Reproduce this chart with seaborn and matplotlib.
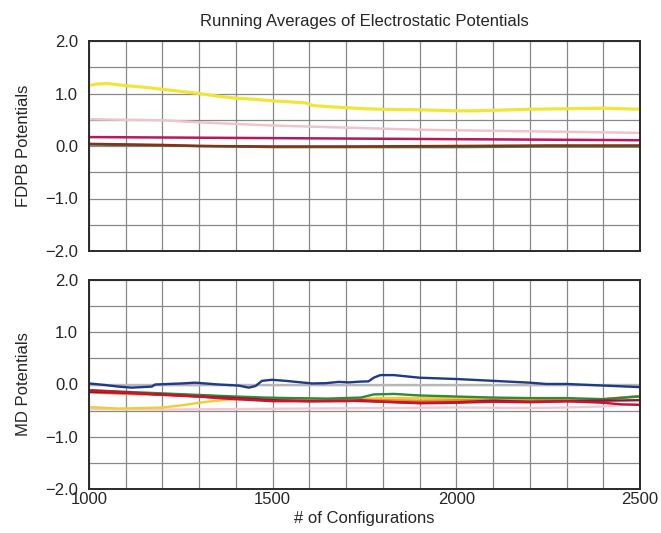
import numpy as np
import pandas as pd
import matplotlib
matplotlib.use("Agg")
import matplotlib.pyplot as plt
from matplotlib.ticker import MultipleLocator, FixedLocator, FuncFormatter
import seaborn as sns

# ---- data (running averages) ----
# FDPB panel
fdpb_yellow_x = [1000, 1020, 1050, 1100, 1150, 1200, 1250, 1300, 1350, 1400, 1450, 1500,
                 1550, 1590, 1610, 1650, 1700, 1750, 1800, 1900, 2000, 2050, 2100, 2200,
                 2300, 2400, 2500]
fdpb_yellow_y = [1.15, 1.18, 1.19, 1.15, 1.12, 1.08, 1.04, 1.00, 0.95, 0.91, 0.89, 0.86,
                 0.84, 0.82, 0.77, 0.75, 0.73, 0.71, 0.70, 0.69, 0.67, 0.67, 0.68, 0.70,
                 0.71, 0.72, 0.70]
fdpb_pink_x = [1000, 1100, 1200, 1300, 1400, 1500, 1600, 1700, 1800, 1900, 2000, 2100,
               2200, 2300, 2400, 2500]
fdpb_pink_y = [0.51, 0.50, 0.49, 0.45, 0.42, 0.39, 0.37, 0.35, 0.33, 0.31, 0.30, 0.29,
               0.28, 0.27, 0.26, 0.25]
fdpb_magenta_x = [1000, 1250, 1500, 1750, 2000, 2250, 2500]
fdpb_magenta_y = [0.17, 0.16, 0.15, 0.14, 0.13, 0.12, 0.11]
fdpb_brown_x = [1000, 1200, 1300, 1500, 1700, 2000, 2250, 2500]
fdpb_brown_y = [0.04, 0.02, 0.00, -0.01, -0.01, 0.00, 0.01, 0.01]
fdpb_green_x = [1000, 1200, 1500, 1800, 2000, 2250, 2500]
fdpb_green_y = [0.03, 0.01, -0.02, -0.02, -0.02, -0.01, -0.01]

# MD panel
md_grey_x = [1000, 1500, 2000, 2500]
md_grey_y = [0.0, 0.0, 0.0, 0.0]
md_pink_x = [1000, 1200, 1400, 1600, 1800, 2000, 2200, 2300, 2400, 2450, 2500]
md_pink_y = [-0.47, -0.48, -0.47, -0.46, -0.45, -0.44, -0.45, -0.44, -0.42, -0.39, -0.37]
md_yellow_x = [1000, 1050, 1080, 1150, 1200, 1250, 1280, 1320, 1380, 1450, 1500, 1550,
               1650, 1750, 1800, 1900, 2000, 2100, 2200, 2300, 2400, 2500]
md_yellow_y = [-0.43, -0.45, -0.46, -0.45, -0.44, -0.40, -0.37, -0.33, -0.29, -0.28,
               -0.26, -0.27, -0.28, -0.27, -0.26, -0.26, -0.26, -0.27, -0.29, -0.30,
               -0.29, -0.22]
md_orange_x = [1000, 1100, 1200, 1300, 1400, 1500, 1600, 1700, 1800, 1900, 2000, 2100,
               2200, 2300, 2400, 2500]
md_orange_y = [-0.15, -0.18, -0.20, -0.23, -0.27, -0.29, -0.30, -0.29, -0.30, -0.31,
               -0.30, -0.30, -0.31, -0.29, -0.28, -0.22]
md_green_x = [1000, 1100, 1200, 1300, 1400, 1480, 1550, 1650, 1740, 1775, 1830, 1900,
              2000, 2100, 2200, 2300, 2400, 2500]
md_green_y = [-0.11, -0.14, -0.17, -0.20, -0.23, -0.25, -0.26, -0.27, -0.25, -0.19,
              -0.18, -0.21, -0.23, -0.25, -0.26, -0.26, -0.28, -0.23]
md_maroon_x = [1000, 1100, 1200, 1300, 1400, 1500, 1600, 1700, 1800, 1900, 2000, 2100,
               2200, 2300, 2400, 2500]
md_maroon_y = [-0.14, -0.16, -0.19, -0.23, -0.26, -0.30, -0.32, -0.31, -0.33, -0.35,
               -0.34, -0.31, -0.33, -0.32, -0.31, -0.30]
md_red_x = [1000, 1100, 1180, 1300, 1350, 1450, 1500, 1600, 1700, 1740, 1800, 1900,
            2000, 2100, 2200, 2300, 2400, 2450, 2500]
md_red_y = [-0.11, -0.15, -0.19, -0.23, -0.26, -0.30, -0.32, -0.32, -0.32, -0.30, -0.33,
            -0.36, -0.35, -0.33, -0.34, -0.32, -0.35, -0.38, -0.39]
md_blue_x = [1000, 1044, 1080, 1116, 1171, 1180, 1253, 1289, 1353, 1407, 1435, 1453,
             1471, 1498, 1535, 1607, 1644, 1680, 1707, 1738, 1761, 1775, 1793, 1830,
             1900, 2000, 2100, 2200, 2245, 2300, 2400, 2500]
md_blue_y = [0.02, -0.01, -0.04, -0.06, -0.04, 0.00, 0.02, 0.035, 0.00, -0.02, -0.06,
             -0.03, 0.07, 0.09, 0.07, 0.02, 0.025, 0.05, 0.04, 0.055, 0.06, 0.13, 0.18,
             0.18, 0.13, 0.105, 0.07, 0.035, 0.01, 0.01, -0.02, -0.05]


def long_form(series):
    frames = []
    for name, xs, ys in series:
        frames.append(pd.DataFrame({"config": xs, "value": ys, "series": name}))
    return pd.concat(frames, ignore_index=True)


fdpb_df = long_form([
    ("green", fdpb_green_x, fdpb_green_y),
    ("brown", fdpb_brown_x, fdpb_brown_y),
    ("magenta", fdpb_magenta_x, fdpb_magenta_y),
    ("pink", fdpb_pink_x, fdpb_pink_y),
    ("yellow", fdpb_yellow_x, fdpb_yellow_y),
])
md_df = long_form([
    ("grey", md_grey_x, md_grey_y),
    ("pink", md_pink_x, md_pink_y),
    ("yellow", md_yellow_x, md_yellow_y),
    ("orange", md_orange_x, md_orange_y),
    ("green", md_green_x, md_green_y),
    ("maroon", md_maroon_x, md_maroon_y),
    ("red", md_red_x, md_red_y),
    ("blue", md_blue_x, md_blue_y),
])

fdpb_colors = {"green": "#2a8a5a", "brown": "#8b3018", "magenta": "#b8185e",
               "pink": "#f0c4cc", "yellow": "#f2e53a"}
md_colors = {"grey": "#b8b8b8", "pink": "#f2c8d0", "yellow": "#ecd030",
             "orange": "#ef8a22", "green": "#2e8b3a", "maroon": "#8b1838",
             "red": "#d01030", "blue": "#1f3a86"}

sns.set_style("white")
plt.rcParams["font.family"] = ["Liberation Sans", "DejaVu Sans"]

fig = plt.figure(figsize=(6.61, 5.33), dpi=100)
W, H = 661, 533
ax_top = fig.add_axes([89 / W, 1 - 251 / H, 551 / W, 210 / H])
ax_bot = fig.add_axes([89 / W, 1 - 489 / H, 551 / W, 209 / H])

sns.lineplot(data=fdpb_df, x="config", y="value", hue="series", palette=fdpb_colors,
             estimator=None, sort=True, legend=False, ax=ax_top, linewidth=1.8)
sns.lineplot(data=md_df, x="config", y="value", hue="series", palette=md_colors,
             estimator=None, sort=True, legend=False, ax=ax_bot, linewidth=1.7)

# thicker yellow in the top panel
for line in ax_top.get_lines():
    if matplotlib.colors.to_hex(line.get_color()) == fdpb_colors["yellow"]:
        line.set_linewidth(2.3)

minus_fmt = FuncFormatter(lambda v, pos: f"{v:.1f}".replace("-", "\u2212"))

for ax in (ax_top, ax_bot):
    ax.set_xlim(1000, 2500)
    ax.set_ylim(-2.0, 2.0)
    ax.xaxis.set_major_locator(FixedLocator([1000, 1500, 2000, 2500]))
    ax.xaxis.set_minor_locator(MultipleLocator(100))
    ax.yaxis.set_major_locator(MultipleLocator(1.0))
    ax.yaxis.set_minor_locator(MultipleLocator(0.5))
    ax.grid(True, which="both", color="#888888", linewidth=0.9)
    ax.set_axisbelow(True)
    ax.yaxis.set_major_formatter(minus_fmt)
    ax.tick_params(which="both", length=0, labelsize=12)
    ax.tick_params(axis="y", pad=8)
    ax.tick_params(axis="x", pad=2)
    for sp in ax.spines.values():
        sp.set_color("#2a2a2a")
        sp.set_linewidth(1.4)
    ax.set_ylabel("")
    ax.set_xlabel("")

ax_top.tick_params(axis="x", labelbottom=False)

ax_top.set_ylabel("FDPB Potentials", fontsize=12)
ax_bot.set_ylabel("MD Potentials", fontsize=12)
ax_top.yaxis.set_label_coords(-0.105, 0.5)
ax_bot.yaxis.set_label_coords(-0.105, 0.5)
ax_bot.set_xlabel("# of Configurations", fontsize=12)
ax_bot.xaxis.set_label_coords(0.5, -0.105)

ax_top.set_title("Running Averages of Electrostatic Potentials", fontsize=12, pad=11)

fig.savefig("out.png", dpi=100, facecolor="white")
